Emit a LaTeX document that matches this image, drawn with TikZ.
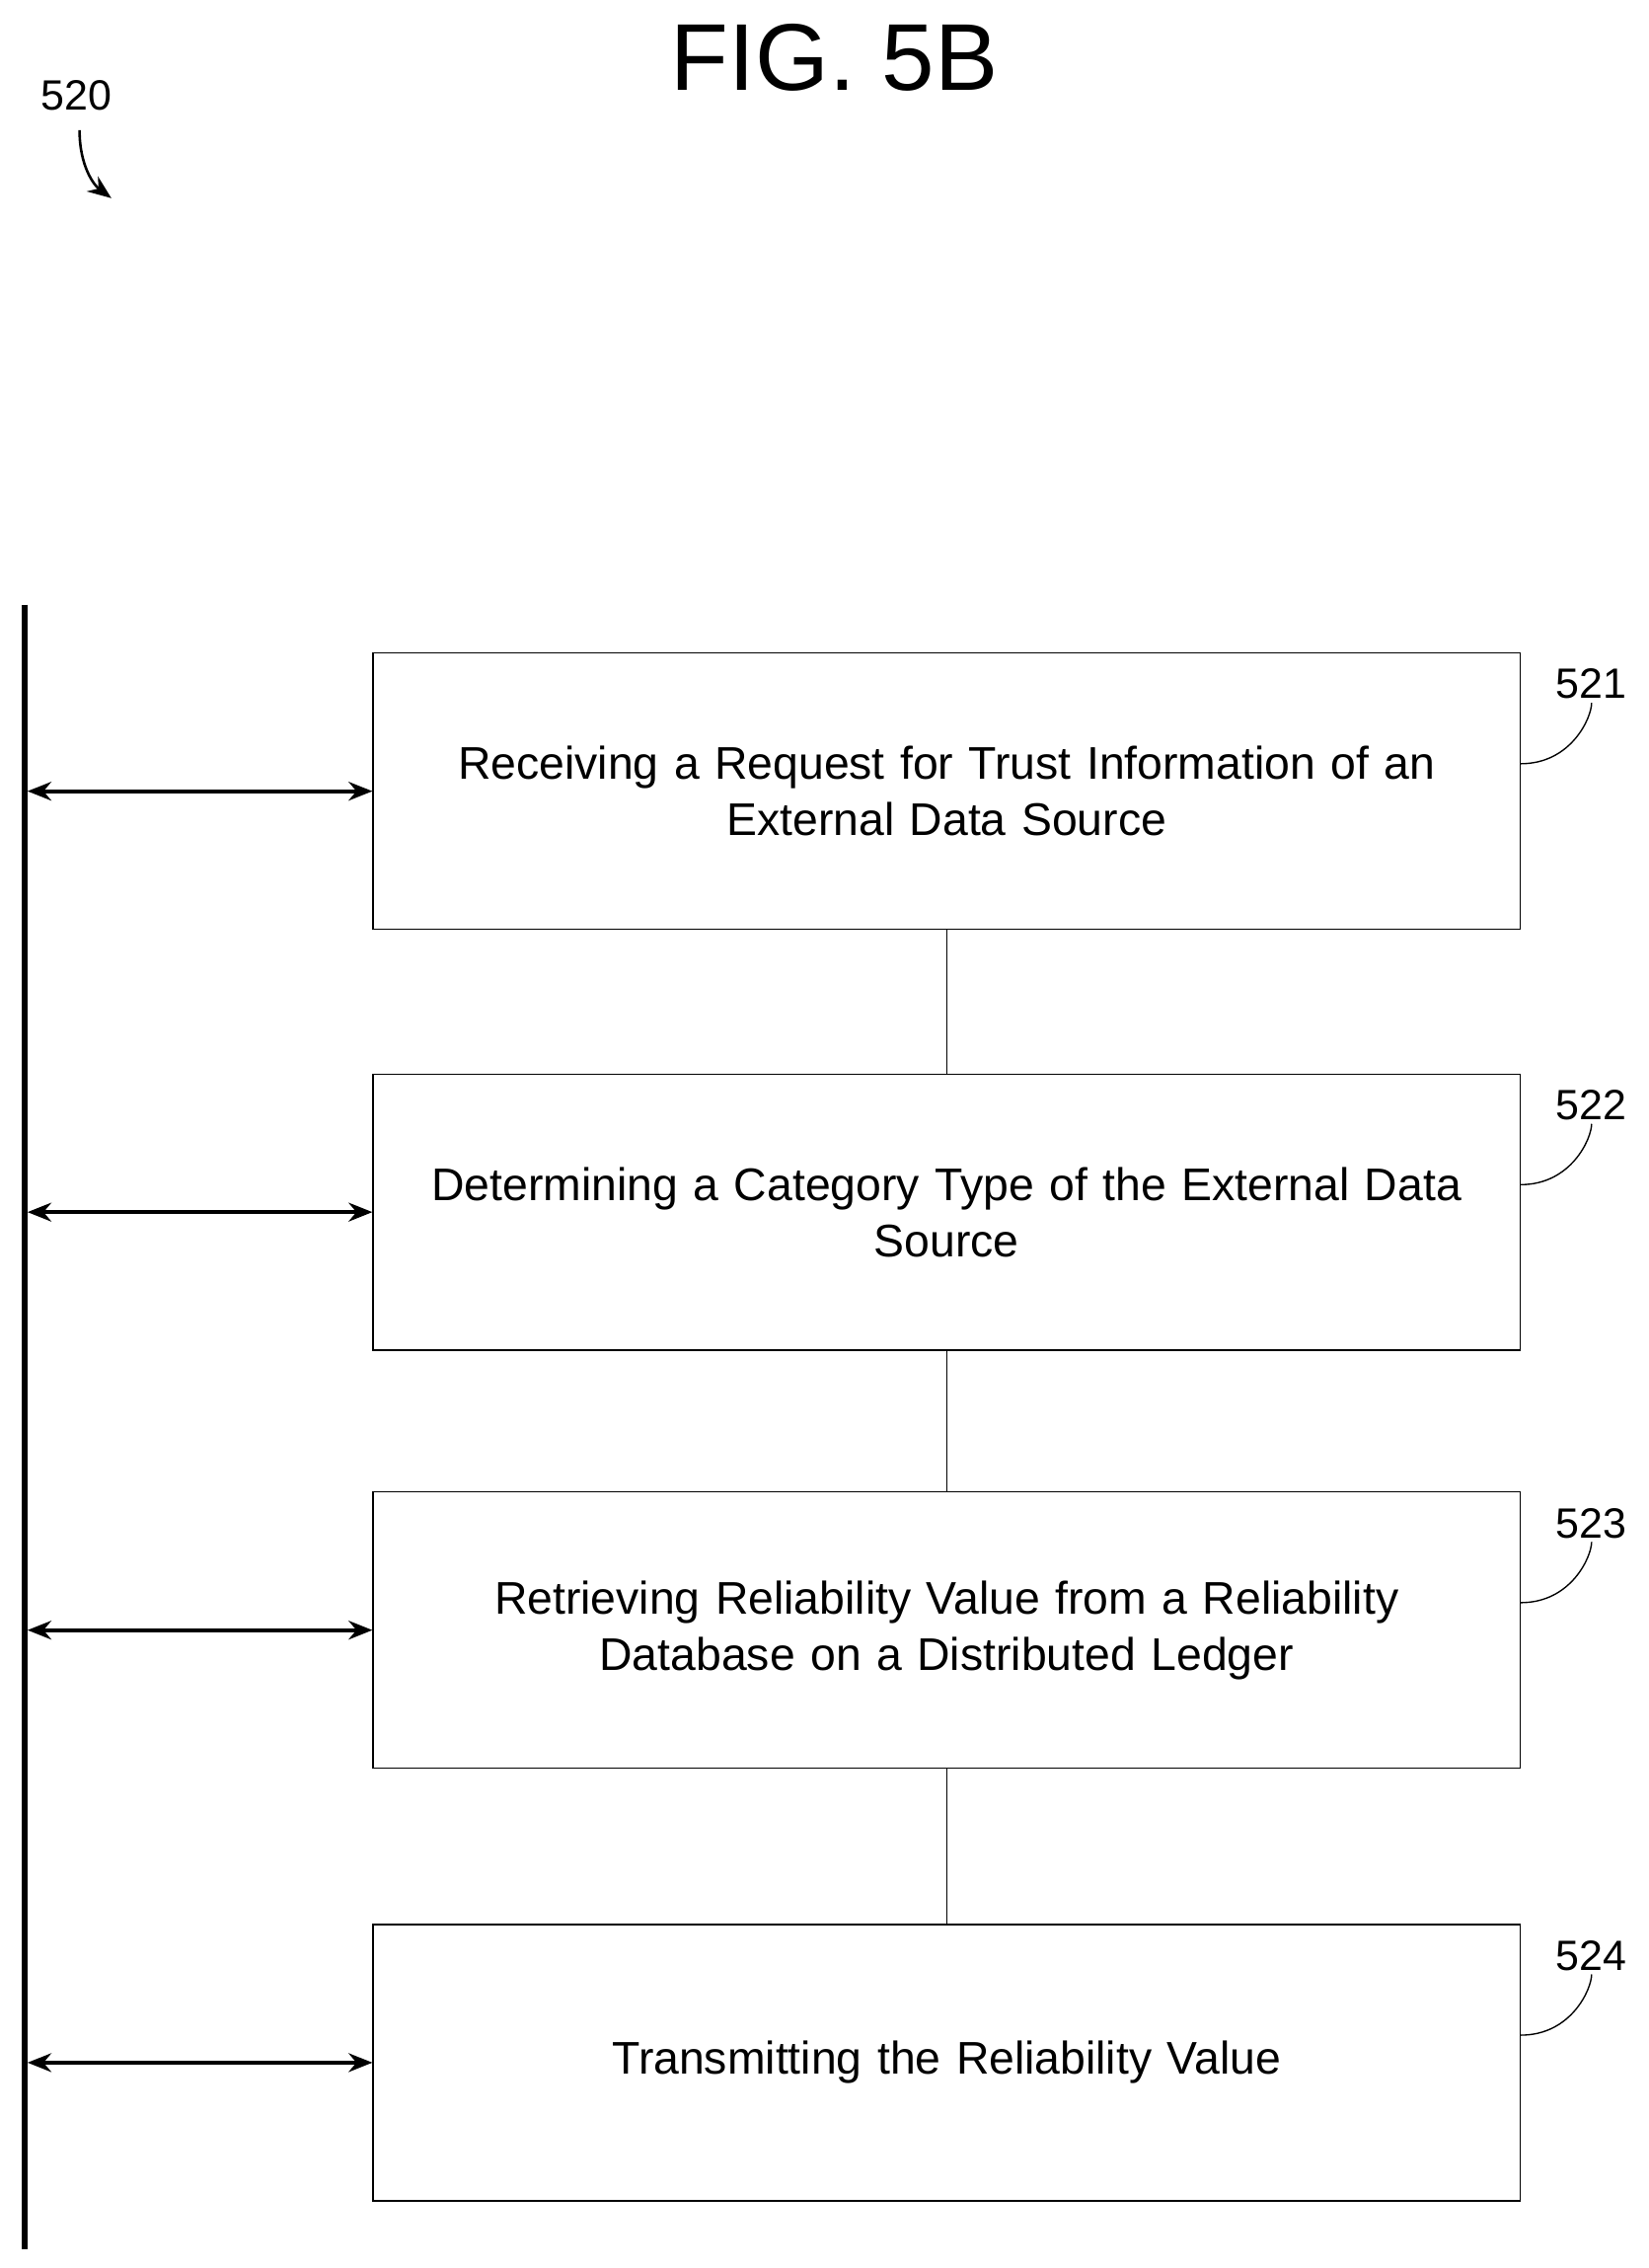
\documentclass[tikz,border=0pt]{standalone}
\usepackage{fontspec}
\setmainfont{Liberation Sans}
\usetikzlibrary{positioning, arrows.meta}
\tikzset{>={Stealth[length=14pt, width=11pt]},
stage/.style={draw, thick, minimum width=23.79cm, minimum height=5.73cm, align=center, text width=22.5cm, font=\fontsize{27}{33}\selectfont},
num/.style={font=\fontsize{25}{28}\selectfont},
}
\begin{document}
\begin{tikzpicture}[x=0.03cm, y=-0.03cm]
    \useasboundingbox (0,0) rectangle (1140,1568);
    \node[font=\fontsize{56}{60}\selectfont] (fig) at (577,40) {FIG. 5B};
    \node[num] (n520) at (53,66) {520};
    \draw[->, line width=1.5pt] (55,90) .. controls (55,115) and (65,128) .. (77,137);

    \draw[line width=3.5pt] (17,418) coordinate (top) -- (17,1555) coordinate (bot);

    \node[stage] (s1) at (654.5,547) {Receiving a Request for Trust Information of an\\External Data Source};
    \node[stage] (s2) at (654.5,838) {Determining a Category Type of the External Data\\Source};
    \node[stage] (s3) at (654.5,1127) {Retrieving Reliability Value from a Reliability\\Database on a Distributed Ledger};
    \node[stage] (s4) at (654.5,1426) {Transmitting the Reliability Value};

    \draw[thick] (s1) -- (s2);
    \draw[thick] (s2) -- (s3);
    \draw[thick] (s3) -- (s4);

    \foreach \s/\n/\y in {s1/521/547, s2/522/838, s3/523/1127, s4/524/1426} {
        \coordinate (bar\s) at (19,\y);
        \draw[<->, line width=2.5pt] (bar\s) -- (\s.west);
        \node[num] (l\n) at (1100,\y-74) {\n};
        \draw[thick] (\s.east) ++(0,-19) .. controls +(35,0) and +(0,10) .. +(49,-42);
    }
\end{tikzpicture}
\end{document}
